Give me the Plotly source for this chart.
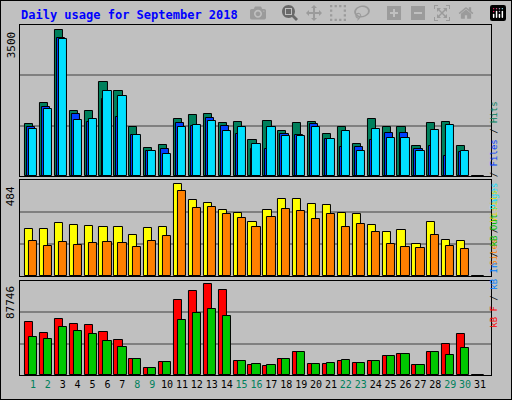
import plotly.graph_objects as go

# Daily usage, September 2018
days = list(range(1, 32))
hits = [1243, 1742, 3500, 1552, 1552, 2241, 2027, 1172, 673, 744, 1362, 1457, 1481, 1267, 1291,
        863, 1315, 1077, 1267, 1291, 1006, 1172, 768, 1362, 1172, 1172, 721, 1267, 1291, 721, 0]
files = [1172, 1647, 3287, 1481, 1291, 1837, 1410, 982, 602, 649, 1267, 1196, 1386, 1196, 1006,
         649, 649, 1006, 982, 1243, 887, 697, 697, 863, 1030, 1030, 649, 721, 483, 578, 0]
pages = [1125, 1600, 3263, 1338, 1362, 2027, 1909, 982, 602, 531, 1172, 1220, 1315, 1077, 1172,
         768, 1172, 958, 958, 1172, 887, 1077, 602, 1125, 911, 911, 602, 1101, 1220, 602, 0]
visits = [247, 247, 278, 268, 262, 257, 257, 215, 252, 257, 484, 400, 384, 347, 331,
          283, 347, 405, 405, 378, 373, 331, 326, 268, 231, 242, 167, 283, 188, 183, 0]
sites = [183, 157, 178, 162, 172, 178, 172, 151, 183, 209, 447, 357, 363, 326, 304,
         257, 310, 352, 341, 299, 326, 257, 273, 231, 167, 151, 146, 215, 157, 141, 0]
kb_f = [51750, 41145, 54643, 49822, 48858, 42109, 34396, 15427, 6750, 12535, 72999, 81677,
        87746, 81891, 13499, 9642, 8678, 15427, 22177, 10606, 10606, 13499, 11570, 13499,
        18320, 20249, 9642, 22177, 29892, 39530, 0]
kb_in = [0, 0, 300, 0, 0, 0, 0, 0, 0, 0, 0, 0, 0, 0, 0, 0, 0, 0, 0, 0, 0, 0, 0, 0, 0, 0, 0, 0, 0, 0, 0]
kb_out = [37289, 35361, 46929, 43072, 40179, 33432, 27647, 15427, 6750, 12535, 53714, 60463,
          63999, 57250, 13499, 10606, 9642, 15427, 22177, 10606, 11570, 14463, 11570, 13499,
          18320, 20249, 9642, 22177, 19285, 26034, 0]
weekend = {1, 2, 8, 9, 15, 16, 22, 23, 29, 30}

FONT = "DejaVu Sans Mono"
BG = "#C0C0C0"
fig = go.Figure()

def bar(y, color, offset, axis):
    fig.add_trace(go.Bar(x=days, y=y, marker=dict(color=color, line=dict(color="black", width=1)),
                         width=0.55, offset=offset, xaxis="x" + axis, yaxis="y" + axis,
                         showlegend=False))

bar(hits, "#00805C", -0.54, "")
bar(files, "#0040FF", -0.40, "")
bar(pages, "#00E0FF", -0.27, "")
bar(visits, "#FFFF00", -0.54, "2")
bar(sites, "#FF8000", -0.27, "2")
bar(kb_f, "#FF0000", -0.54, "3")
bar(kb_in, "#0080FF", -0.40, "3")
bar(kb_out, "#00C800", -0.27, "3")

panels = [("", hits, 151.5 / 147, [0.559, 0.9375]),
          ("2", visits, 96 / 92, [0.31, 0.55]),
          ("3", kb_f, 94.3 / 91, [0.062, 0.2975])]
layout = {}
for ax, vals, k, dom in panels:
    top = max(vals) * k
    layout["yaxis" + ax] = dict(domain=dom, range=[0, top], tickvals=[top / 3, 2 * top / 3],
                                showticklabels=False, gridcolor="#808080", gridwidth=1.5,
                                showline=True, linecolor="black", mirror=True, zeroline=False,
                                anchor="x" + ax, fixedrange=True)
    layout["xaxis" + ax] = dict(domain=[0.039, 0.959], range=[0.13, 31.74], anchor="y" + ax,
                                showgrid=False, showline=True, linecolor="black", mirror=True,
                                showticklabels=(ax == "3"), ticks="", tickangle=0,
                                tickvals=days,
                                ticktext=[f"<span style='color:{'#00805C' if d in weekend else 'black'}'>{d}</span>" for d in days],
                                tickfont=dict(family=FONT, size=10))
    fig.add_annotation(text=str(max(vals)), textangle=-90, xref="paper", yref="y" + ax,
                       x=0.022, y=max(vals), yanchor="top", xanchor="center", showarrow=False,
                       font=dict(family=FONT, size=11, color="black"))

sides = [("<span style='color:#00E0FF'>Pages</span> / <span style='color:#0040FF'>Files</span> / <span style='color:#00805C'>Hits</span>", 0.75),
         ("<span style='color:#FF8000'>Sites</span> / <span style='color:#E8D800'>Visits</span>", 0.43),
         ("<span style='color:#FF0000'>kB F</span> / <span style='color:#0080FF'>kB In</span> / <span style='color:#00C000'>kB Out</span>", 0.175)]
for txt, yy in sides:
    fig.add_annotation(text=txt, textangle=-90, xref="paper", yref="paper", x=0.978, y=yy,
                       showarrow=False, font=dict(family=FONT, size=9, color="black"))

fig.add_annotation(text="<b>Daily usage for September 2018</b>", xref="paper", yref="paper",
                   x=0.037, y=0.962, xanchor="left", yanchor="middle", showarrow=False,
                   font=dict(family=FONT, size=12, color="#0000FF"))
fig.add_shape(type="rect", xref="paper", yref="paper", x0=0, x1=1, y0=0, y1=1,
              line=dict(color="black", width=2))

fig.update_layout(width=512, height=400, margin=dict(l=0, r=0, t=0, b=0),
                  paper_bgcolor=BG, plot_bgcolor=BG, barmode="overlay", bargap=0,
                  **layout)
fig.write_html("out.html", post_script="document.body.style.margin='0';")
